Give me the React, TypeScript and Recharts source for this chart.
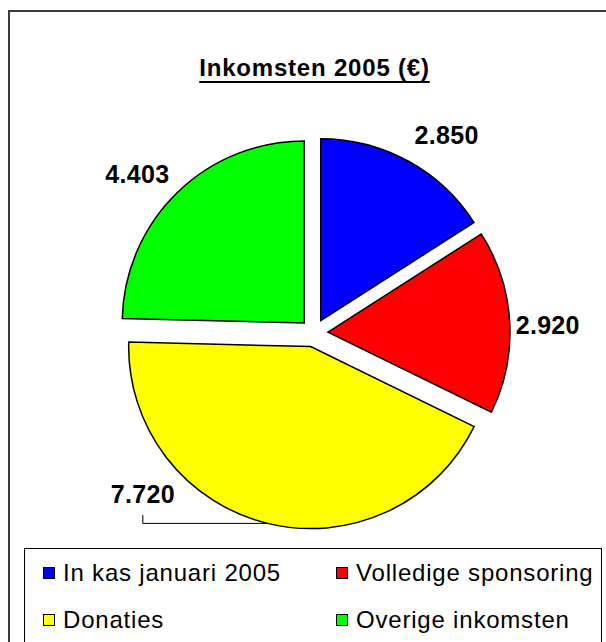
import React from "react";
import { PieChart, Pie, Sector, Legend } from "recharts";

const categories = ["In kas januari 2005", "Volledige sponsoring", "Donaties", "Overige inkomsten"];
const amounts = [2850, 2920, 7720, 4403];
const chartTitle = "Inkomsten 2005 (€)";

const COLORS = ["#0000FF", "#FF0000", "#FFFF00", "#00FF00"];
const FONT = '"Liberation Sans", Arial, Helvetica, sans-serif';
const RAD = Math.PI / 180;

const CX = 314;
const CY = 333;
const RADIUS = 182;
const EXPLODE = 14;
const LABEL_R = 212;
const LABEL_MAX_BASELINE = 503;

const pieData = categories.map((name, i) => ({ name, value: amounts[i], fill: COLORS[i] }));

// Dutch style thousands separator: 2850 -> 2.850
const fmt = (v: number) => String(v).replace(/\B(?=(\d{3})+(?!\d))/g, ".");

// every slice is pulled out a little along its middle angle
const ExplodedSector = (props: any) => {
  const { cx, cy, midAngle } = props;
  const dx = EXPLODE * Math.cos(-midAngle * RAD);
  const dy = EXPLODE * Math.sin(-midAngle * RAD);
  return <Sector {...props} cx={cx + dx} cy={cy + dy} stroke="#000" strokeWidth={1.5} />;
};

const renderLabel = (props: any) => {
  const { cx, cy, midAngle, value } = props;
  const ux = Math.cos(-midAngle * RAD);
  const uy = Math.sin(-midAngle * RAD);
  const r = LABEL_R - 10 * ux * ux;
  const px = cx + r * ux;
  const py = cy + r * uy;
  const anchor = ux > 0.1 ? "start" : ux < -0.1 ? "end" : "middle";
  const baseline = py + 14 + 22 * uy;
  const textStyle = { fontFamily: FONT, fontSize: 25, fontWeight: 700, letterSpacing: 0.3 };

  if (baseline <= LABEL_MAX_BASELINE) {
    return (
      <text x={px} y={baseline} textAnchor={anchor} fill="#000" style={textStyle}>
        {fmt(value)}
      </text>
    );
  }

  // label would run into the legend: slide it up along a circle and add a leader line
  const ty = LABEL_MAX_BASELINE - 9;
  const r2 = 235;
  const tx = cx - Math.sign(-ux || 1) * Math.sqrt(Math.max(r2 * r2 - (ty - cy) * (ty - cy), 0));
  const ex = cx + (RADIUS + EXPLODE) * ux;
  const ey = cy + (RADIUS + EXPLODE) * uy;
  return (
    <g>
      <text x={tx} y={LABEL_MAX_BASELINE} textAnchor="middle" fill="#000" style={textStyle}>
        {fmt(value)}
      </text>
      <polyline
        points={`${tx},${LABEL_MAX_BASELINE + 12} ${tx},${ey} ${ex},${ey}`}
        fill="none"
        stroke="#000"
        strokeWidth={1}
      />
    </g>
  );
};

const renderLegend = (props: any) => {
  // keep the series order of the data, not alphabetical
  const items = [...(props.payload || [])].sort(
    (a: any, b: any) => categories.indexOf(a.value) - categories.indexOf(b.value)
  );
  return (
    <div
      style={{
        position: "relative",
        width: 578,
        height: 120,
        border: "1px solid #000",
        background: "#fff",
        boxSizing: "border-box",
        fontFamily: FONT,
      }}
    >
      {items.map((entry: any, i: number) => {
        const col = i % 2;
        const row = Math.floor(i / 2);
        return (
          <div
            key={entry.value}
            style={{
              position: "absolute",
              left: col ? 311 : 18,
              top: 12 + row * 47,
              height: 24,
              display: "flex",
              alignItems: "center",
              whiteSpace: "nowrap",
            }}
          >
            <span
              style={{
                display: "inline-block",
                width: 10,
                height: 10,
                border: "1px solid #000",
                background: entry.color || COLORS[categories.indexOf(entry.value)],
                marginRight: 8,
              }}
            />
            <span style={{ fontSize: 24, lineHeight: "24px", letterSpacing: 0.8, color: "#000" }}>
              {entry.value}
            </span>
          </div>
        );
      })}
    </div>
  );
};

export default function App() {
  return (
    <div
      style={{
        position: "absolute",
        left: 0,
        top: 0,
        width: 606,
        height: 642,
        overflow: "hidden",
        background: "#fff",
      }}
    >
      <div
        style={{
          position: "absolute",
          left: 8,
          top: 10,
          width: 640,
          height: 700,
          borderTop: "2px solid #3a3a3a",
          borderLeft: "2px solid #3a3a3a",
        }}
      />
      <div
        style={{
          position: "absolute",
          left: 0,
          top: 56,
          width: 629,
          textAlign: "center",
          fontFamily: FONT,
          fontSize: 24,
          lineHeight: "24px",
          fontWeight: 700,
          letterSpacing: 0.8,
          textDecoration: "underline",
          textDecorationThickness: 2,
          textUnderlineOffset: 5,
          color: "#000",
        }}
      >
        {chartTitle}
      </div>
      <div style={{ position: "absolute", left: 0, top: 0 }}>
        <PieChart width={606} height={642} margin={{ top: 0, right: 0, bottom: 0, left: 0 }}>
          <Pie
            data={pieData}
            dataKey="value"
            nameKey="name"
            cx={CX}
            cy={CY}
            outerRadius={RADIUS}
            startAngle={90}
            endAngle={-270}
            stroke="#000"
            strokeWidth={1.5}
            shape={ExplodedSector}
            label={renderLabel}
            labelLine={false}
            isAnimationActive={false}
          />
          <Legend
            content={renderLegend}
            wrapperStyle={{ left: 24, top: 548, bottom: "auto", width: 578 }}
          />
        </PieChart>
      </div>
    </div>
  );
}
